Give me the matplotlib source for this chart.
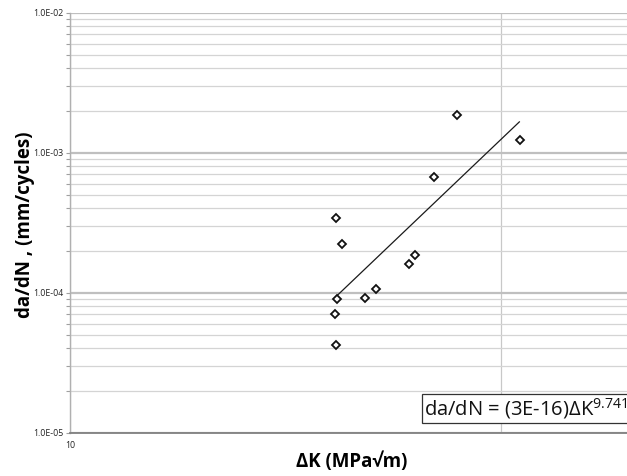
import matplotlib
matplotlib.use("Agg")
import matplotlib.pyplot as plt
from matplotlib.ticker import LogLocator, NullFormatter, FixedLocator, FixedFormatter
import numpy as np

plt.rcParams['font.family'] = ['Open Sans', 'DejaVu Sans']
plt.rcParams['mathtext.fontset'] = 'custom'
plt.rcParams['mathtext.rm'] = 'Open Sans'

# ---- data ----
delta_k = [78.9, 110.5, 69.9, 41.4, 42.8, 63.2, 61.3, 51.3, 41.6, 48.3, 41.2, 41.4]
da_dn = [1.87e-3, 1.23e-3, 6.71e-4, 3.43e-4, 2.23e-4, 1.85e-4, 1.61e-4,
         1.06e-4, 9.02e-5, 9.17e-5, 7.01e-5, 4.25e-5]
trend_x = [41.6, 110.3]
trend_y = [9.5e-5, 1.66e-3]
y_ticks = [1e-5, 1e-4, 1e-3, 1e-2]
y_tick_labels = ["1.0E-05", "1.0E-04", "1.0E-03", "1.0E-02"]
x_ticks = [10, 100]
x_tick_labels = ["10", ""]
equation = r"da/dN = (3E-16)ΔK$^{\mathrm{9.741}}$"

W, H = 627, 476
fig = plt.figure(figsize=(W / 100, H / 100), dpi=100)
ax = fig.add_axes([70 / W, 1 - 432.7 / H, (W - 70) / W, (432.7 - 12.7) / H])

ax.set_xscale('log')
ax.set_yscale('log')
ax.set_xlim(10, 10 ** (1 + (W - 70) / 431))
ax.set_ylim(1e-5, 1e-2)

# grid
ax.yaxis.set_major_locator(FixedLocator(y_ticks))
ax.yaxis.set_major_formatter(FixedFormatter(y_tick_labels))
ax.yaxis.set_minor_locator(LogLocator(base=10, subs=np.arange(2, 10)))
ax.yaxis.set_minor_formatter(NullFormatter())
ax.xaxis.set_major_locator(FixedLocator(x_ticks))
ax.xaxis.set_major_formatter(FixedFormatter(x_tick_labels))
ax.xaxis.set_minor_locator(FixedLocator([]))

ax.grid(True, which='major', axis='y', color='#bfbfbf', linewidth=1.6)
ax.grid(True, which='minor', axis='y', color='#d4d4d4', linewidth=0.9)
ax.grid(True, which='major', axis='x', color='#c8c8c8', linewidth=0.9)
ax.set_axisbelow(True)

for s in ['top', 'right']:
    ax.spines[s].set_visible(False)
ax.spines['left'].set_color('#b0b0b0')
ax.spines['left'].set_linewidth(1.0)
ax.spines['bottom'].set_color('#808080')
ax.spines['bottom'].set_linewidth(1.3)

ax.tick_params(axis='y', which='both', direction='out', length=3, width=0.8,
               color='#a0a0a0', labelsize=6.3, pad=2, labelcolor='#222222')
ax.tick_params(axis='x', which='major', length=0, labelsize=6.3, pad=6,
               labelcolor='#222222')

# data
ax.plot(trend_x, trend_y, color='#1a1a1a', linewidth=0.9, zorder=3)
ax.plot(delta_k, da_dn, linestyle='none', marker='D', markersize=3.6,
        markerfacecolor='white', markeredgecolor='#111111',
        markeredgewidth=1.3, zorder=4)

ax.set_xlabel("ΔK (MPa√m)", fontsize=13.5, fontweight='bold')
ax.set_ylabel("da/dN , (mm/cycles)", fontsize=13.5, fontweight='bold')
ax.xaxis.set_label_coords((352 - 70) / (W - 70), (432.7 - 452) / 420)
ax.yaxis.set_label_coords((35 - 70) / (W - 70), (432.7 - 225) / 420)

ax.text((424 - 70) / (W - 70), (432.7 - 408.5) / 420, equation,
        transform=ax.transAxes, fontsize=14.5, va='center', ha='left',
        color='#111111',
        bbox=dict(boxstyle='square,pad=0.12', facecolor='white',
                  edgecolor='#333333', linewidth=0.9), zorder=5, clip_on=False)

fig.savefig("out.png", dpi=100, facecolor='white')
